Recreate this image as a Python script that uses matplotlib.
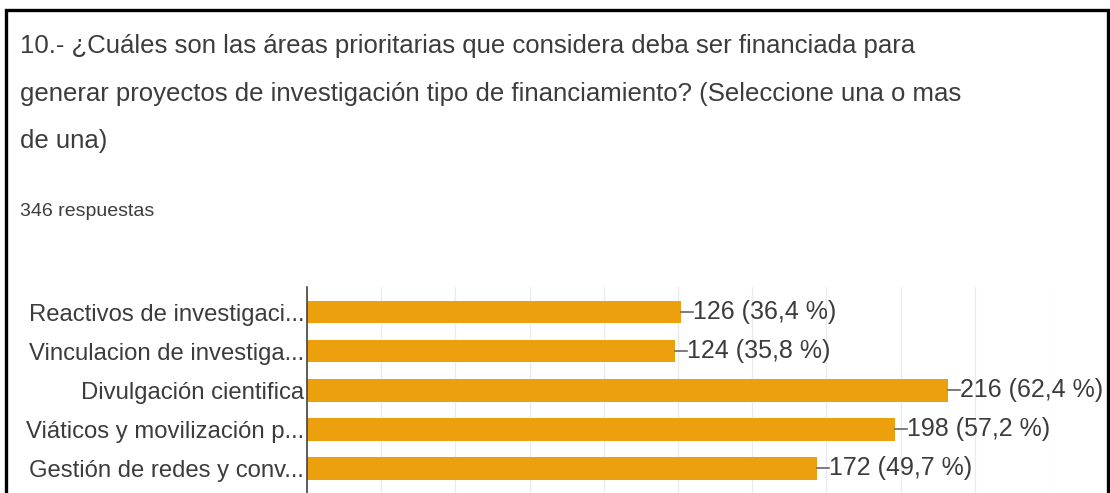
import matplotlib.pyplot as plt
from matplotlib.patches import Rectangle

# datos de la pregunta 10
categorias = [
    "Reactivos de investigaci...",
    "Vinculacion de investiga...",
    "Divulgación cientifica",
    "Viáticos y movilización p...",
    "Gestión de redes y conv...",
]
respuestas = [126, 124, 216, 198, 172]
porcentajes = ["36,4", "35,8", "62,4", "57,2", "49,7"]
total = 346

titulo = [
    "10.- ¿Cuáles son las áreas prioritarias que considera deba ser financiada para",
    "generar proyectos de investigación tipo de financiamiento? (Seleccione una o mas",
    "de una)",
]

NARANJA = '#EDA00E'
GRIS = '#3c3c3c'

plt.rcParams['font.family'] = ['Liberation Sans', 'DejaVu Sans']

fig = plt.figure(figsize=(11.1, 4.93), dpi=100)

# marco negro alrededor
fig.patches.append(Rectangle((6 / 1110, -0.05), 1102 / 1110, 1.05 - 10 / 493,
                             transform=fig.transFigure, fill=False,
                             edgecolor='black', linewidth=2.4))

for linea, ypix in zip(titulo, [46, 94, 141]):
    fig.text(20 / 1110, 1 - ypix / 493, linea, ha='left', va='center',
             fontsize=18.5, color=GRIS)
fig.text(20 / 1110, 1 - 212 / 493, f"{total} respuestas", ha='left',
         va='center', fontsize=14, color=GRIS)

ax = fig.add_axes([307 / 1110, 0.0, 742 / 1110, 1 - 287 / 493])
y = range(len(categorias))
ax.barh(y, respuestas, height=0.58, color=NARANJA, zorder=2)

for i, (v, p) in enumerate(zip(respuestas, porcentajes)):
    ax.plot([v, v + 4], [i, i], color='#666666', linewidth=1.2, zorder=3)
    ax.text(v + 4, i, f"{v} ({p} %)", ha='left', va='center',
            fontsize=18, color=GRIS, zorder=4)

ax.set_xlim(0, 250)
ax.set_ylim(4.63, -0.64)
ax.set_xticks(range(0, 251, 25))
ax.set_xticklabels([])
ax.tick_params(axis='x', length=0)
ax.grid(axis='x', color='#ebebeb', linewidth=1, zorder=0)
ax.set_yticks(list(y))
ax.set_yticklabels(categorias, fontsize=17.2, color=GRIS)
ax.tick_params(axis='y', length=0, pad=2)
for s in ['top', 'right', 'bottom']:
    ax.spines[s].set_visible(False)
ax.spines['left'].set_color('#444444')
ax.spines['left'].set_linewidth(1.2)

fig.savefig('out.png', dpi=100)
